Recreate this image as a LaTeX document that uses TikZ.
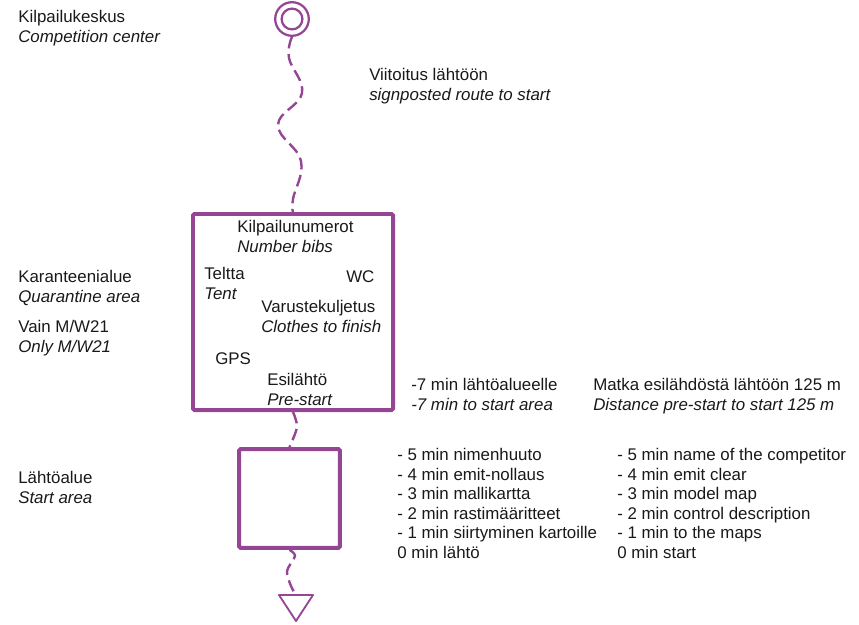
\documentclass[tikz,border=0pt]{standalone}
\usepackage{fontspec}
\setmainfont{Liberation Sans}
\usepackage{tikz}
\usetikzlibrary{positioning}
\definecolor{routeviolet}{RGB}{148,70,148}
\definecolor{inktext}{RGB}{25,25,25}
\tikzset{
  zone/.style={rectangle, draw=routeviolet, line width=2.8pt, rounded corners=1pt, inner sep=0pt},
  ring/.style={circle, draw=routeviolet, line width=1.6pt, inner sep=0pt},
  route/.style={draw=routeviolet, line width=1.7pt, dash pattern=on 8.5pt off 4pt},
  txt/.style={anchor=north west, inner sep=0pt, align=left, text=inktext,
              font=\fontsize{12}{13.9}\selectfont},
}
\begin{document}
\begin{tikzpicture}[x=0.025cm, y=-0.025cm]
\useasboundingbox (0,0) rectangle (859,624);
% course symbols
\node[ring, minimum size=0.84cm] (cc) at (292,19) {};
\node[ring, minimum size=0.52cm] (ccin) at (cc) {};
\node[zone, minimum width=5cm, minimum height=4.9cm] (quar) at (293,312) {};
\node[zone, minimum width=2.52cm, minimum height=2.47cm] (start) at (289.5,498.5) {};
\coordinate (fin) at (296,595);
\draw[routeviolet, line width=1.3pt, line join=round] (279,595) -- (313,595) -- (296,621) -- cycle;

% dashed routes between the symbols
\draw[route] plot[smooth, tension=0.7] coordinates {(cc.south) (289,58) (302,93) (278,125)
  (301,161) (293,199) (quar.north)};
\draw[route] plot[smooth] coordinates {(quar.south) (297,427) (start.north)};
\draw[route] plot[smooth] coordinates {(start.south) (295,556) (287,571) (291,586) (fin)};

% labels on the left
\node[txt] (lblcentre) at (18,10) {Kilpailukeskus\\\textit{Competition center}};
\node[txt] (lblquar) at (18,270) {Karanteenialue\\\textit{Quarantine area}};
\node[txt] (lblonly) at (18,320) {Vain M/W21\\\textit{Only M/W21}};
\node[txt] (lblstart) at (18,471) {Lähtöalue\\\textit{Start area}};

% labels inside the quarantine
\node[txt] (lblbibs) at (237,220) {Kilpailunumerot\\\textit{Number bibs}};
\node[txt] (lbltent) at (204,267) {Teltta\\\textit{Tent}};
\node[txt] (lblwc) at (346,270) {WC};
\node[txt] (lblclothes) at (261,300) {Varustekuljetus\\\textit{Clothes to finish}};
\node[txt] (lblgps) at (215,352) {GPS};
\node[txt] (lblpre) at (267,373) {Esilähtö\\\textit{Pre-start}};

% labels on the right
\node[txt] (lblroute) at (369,68) {Viitoitus lähtöön\\\textit{signposted route to start}};
\node[txt] (lblseven) at (411,378) {-7 min lähtöalueelle\\\textit{-7 min to start area}};
\node[txt] (lbldist) at (593,378) {Matka esilähdöstä lähtöön 125 m\\\textit{Distance pre-start to start 125 m}};
\node[txt] (lblfi) at (397,448) {- 5 min nimenhuuto\\- 4 min emit-nollaus\\- 3 min mallikartta\\
  - 2 min rastimääritteet\\- 1 min siirtyminen kartoille\\0 min lähtö};
\node[txt] (lblen) at (617,448) {- 5 min name of the competitor\\- 4 min emit clear\\- 3 min model map\\
  - 2 min control description\\- 1 min to the maps\\0 min start};
\end{tikzpicture}
\end{document}
